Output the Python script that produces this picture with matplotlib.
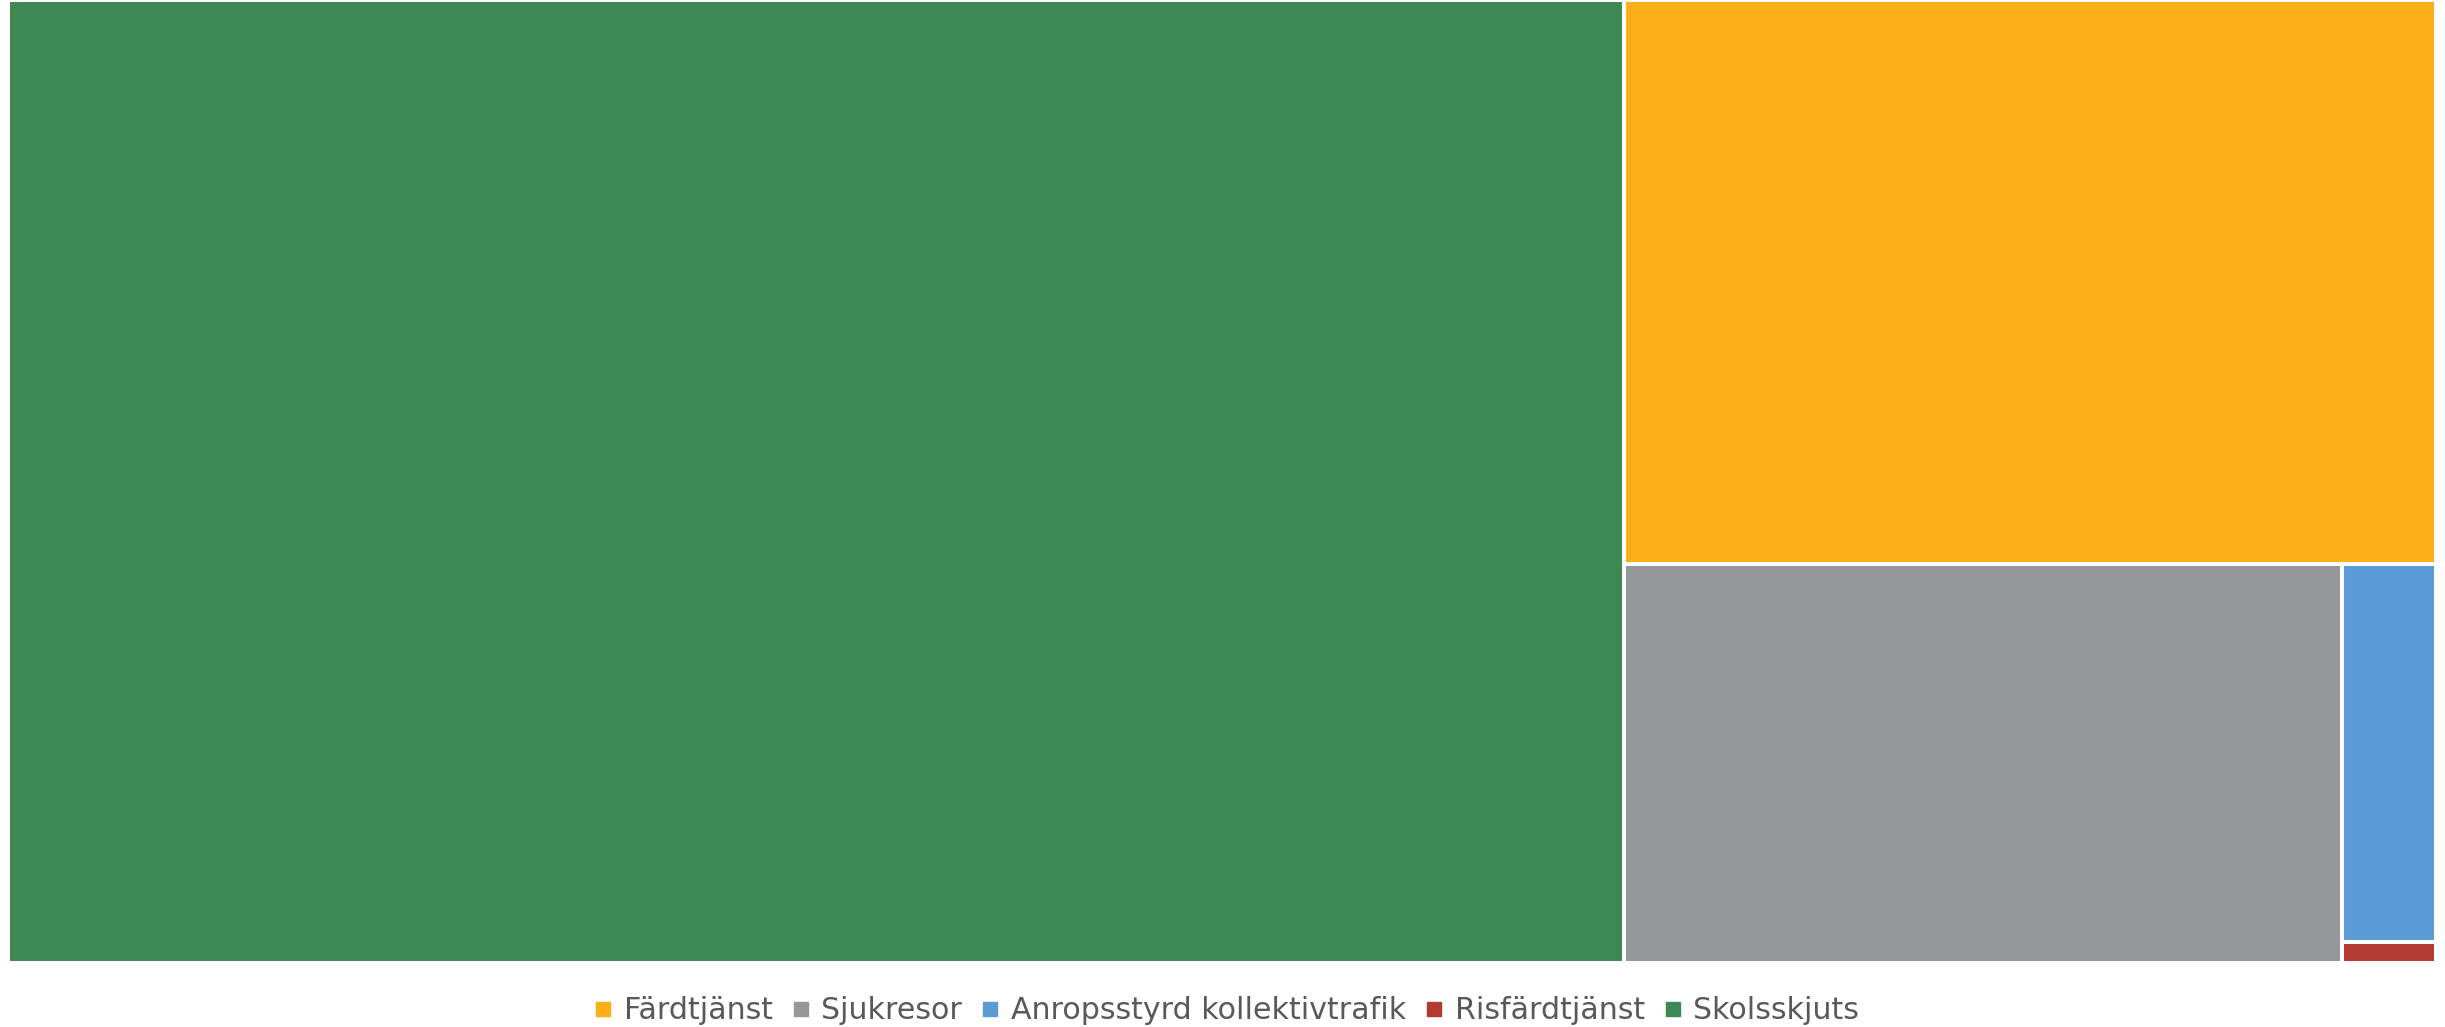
import matplotlib.pyplot as plt
from matplotlib.patches import Rectangle
from matplotlib.lines import Line2D

# share of total per service
categories = ["Färdtjänst", "Sjukresor", "Anropsstyrd kollektivtrafik", "Risfärdtjänst", "Skolsskjuts"]
values = [19.61, 12.24, 1.52, 0.085, 66.54]
colors = ["#FDAF17", "#96979A", "#5B9BD5", "#B13A31", "#3E8953"]

W, H = 2428.0, 963.0  # layout box, same aspect as the axes


def worst(row, side):
    s = sum(row)
    return max(max(side**2 * r / s**2, s**2 / (side**2 * r)) for r in row)


def squarify(areas, x, y, w, h):
    """Squarified treemap; areas sorted descending, y counted from the top."""
    rects = []
    areas = list(areas)
    while areas:
        side = min(w, h)
        row = [areas[0]]
        i = 1
        while i < len(areas) and worst(row + [areas[i]], side) <= worst(row, side):
            row.append(areas[i])
            i += 1
        s = sum(row)
        if w >= h:
            cw = s / h
            yy = y
            for a in row:
                rects.append((x, yy, cw, a / cw))
                yy += a / cw
            x += cw
            w -= cw
        else:
            rh = s / w
            xx = x
            for a in row:
                rects.append((xx, y, a / rh, rh))
                xx += a / rh
            y += rh
            h -= rh
        areas = areas[i:]
    return rects


order = sorted(range(len(values)), key=lambda k: -values[k])
total = sum(values)
areas = [values[k] / total * W * H for k in order]
rects = squarify(areas, 0, 0, W, H)

fig = plt.figure(figsize=(24.45, 10.27), dpi=100)
ax = fig.add_axes([8 / 2445, (1027 - 963) / 1027, W / 2445, H / 1027])
for k, (x, y, w, h) in zip(order, rects):
    ax.add_patch(Rectangle((x, y), w, h, facecolor=colors[k], edgecolor="white", linewidth=2.9))
ax.set_xlim(0, W)
ax.set_ylim(H, 0)
ax.axis("off")

handles = [Line2D([], [], marker="s", linestyle="", markersize=9.5, color=c) for c in colors]
fig.legend(handles, categories, loc="center", bbox_to_anchor=(0.5022, 0.0160), ncol=5, frameon=False,
           fontsize=21.6, labelcolor="#595959", handlelength=0.45, handletextpad=0.45, columnspacing=0.72,
           borderpad=0, borderaxespad=0)

plt.savefig("out.png", dpi=100)
